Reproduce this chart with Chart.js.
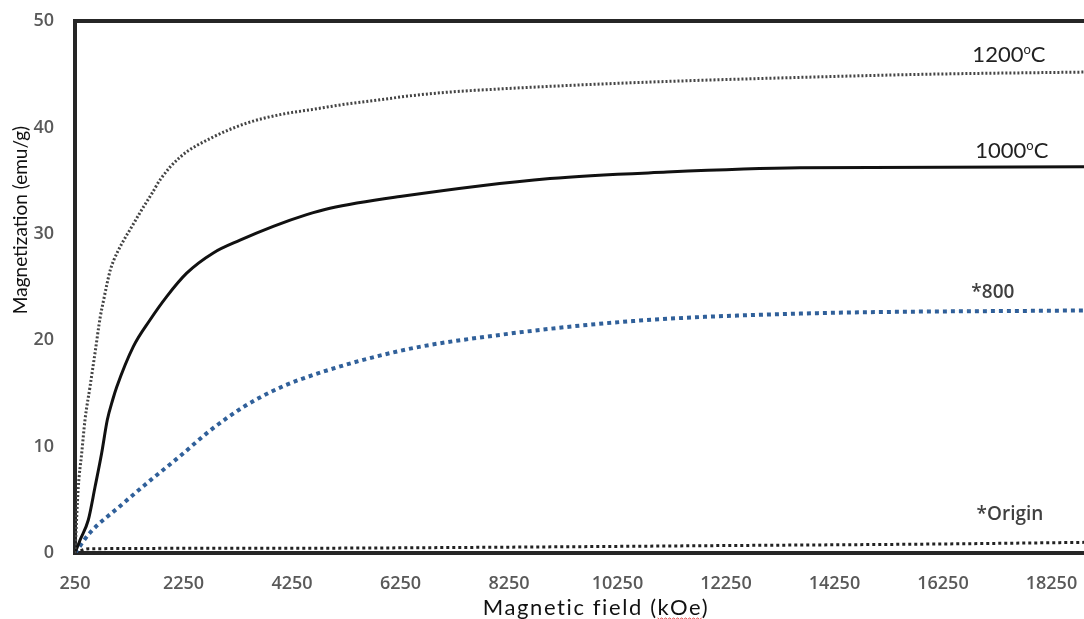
<!DOCTYPE html>
<html>
<head>
<meta charset="utf-8">
<script src="https://cdn.jsdelivr.net/npm/chart.js@4.4.1/dist/chart.umd.min.js"></script>
<style>
  html, body { margin: 0; padding: 0; background: #fff; }
  #wrap { width: 1084px; height: 619px; position: relative; }
</style>
</head>
<body>
<div id="wrap"><canvas id="mhChart"></canvas></div>
<script>
// --- data ---
const fieldTicks = [250, 2250, 4250, 6250, 8250, 10250, 12250, 14250, 16250, 18250];
const magTicks = [0, 10, 20, 30, 40, 50];

const field1200 = [250, 311, 374, 434, 526, 619, 716, 779, 840, 901, 963, 1116, 1301, 1485, 1669, 1822, 2185, 2799, 3415, 4029, 4643, 5258, 5872, 6486, 7102, 8023, 10536, 13614, 16000, 18850];
const mag1200   = [0, 6.2, 9.4, 12.5, 15.6, 18.8, 22.2, 23.8, 25.3, 26.6, 27.5, 29.1, 30.7, 32.3, 33.8, 35.1, 37.2, 39.1, 40.4, 41.2, 41.7, 42.2, 42.6, 43.0, 43.3, 43.6, 44.2, 44.7, 45.0, 45.2];

const field1000 = [250, 342, 495, 619, 742, 845, 945, 1019, 1325, 1632, 1940, 2309, 2799, 3292, 3905, 4521, 4950, 6240, 9005, 11162, 13614, 18850];
const mag1000   = [0, 1.2, 3.1, 6.2, 9.4, 12.5, 14.4, 15.6, 19.4, 21.9, 24.1, 26.3, 28.2, 29.4, 30.7, 31.8, 32.4, 33.5, 35.2, 35.8, 36.2, 36.3];

const field800 = [250, 526, 1079, 1632, 2185, 2738, 3347, 3844, 4397, 6240, 8084, 10536, 13614, 18850];
const mag800   = [0, 1.9, 4.4, 6.8, 9.1, 11.5, 13.7, 15.1, 16.3, 19.0, 20.5, 21.8, 22.5, 22.8];

const fieldOrigin = [250, 500, 4250, 8250, 12250, 16250, 18850];
const magOrigin   = [0, 0.4, 0.45, 0.55, 0.7, 0.85, 1.0];

// curve labels, anchored in data units
const noteText  = ['1200\u1D52C', '1000\u1D52C', '*800', '*Origin'];
const noteField = [17466, 17520, 17170, 17485];
const noteMag   = [46.8, 37.8, 24.5, 3.6];

const toPoints = (xs, ys) => xs.map((x, i) => ({ x: x, y: ys[i] }));

// "1200ᵒC" style label: small raised o
function drawDegLabel(ctx, t, cx, cy) {
    const parts = t.split('\u1D52');
    ctx.textAlign = 'left';
    ctx.font = '22px Lato';
    const w1 = ctx.measureText(parts[0]).width;
    const w2 = ctx.measureText(parts[1]).width;
    ctx.font = '13px Lato';
    const wo = ctx.measureText('o').width;
    let x = cx - (w1 + wo + w2) / 2;
    ctx.font = '22px Lato';
    ctx.fillText(parts[0], x, cy);
    ctx.font = '13px Lato';
    ctx.fillText('o', x + w1, cy - 5);
    ctx.font = '22px Lato';
    ctx.fillText(parts[1], x + w1 + wo, cy);
}

// frame top line + labels + axis titles
const extrasPlugin = {
    id: 'extras',
    afterDraw(chart) {
        const ctx = chart.ctx;
        const area = chart.chartArea;
        const xs = chart.scales.x, ys = chart.scales.y;
        ctx.save();
        // top frame
        ctx.strokeStyle = '#262626';
        ctx.lineWidth = 4;
        ctx.beginPath();
        ctx.moveTo(area.left - 2, area.top);
        ctx.lineTo(area.right, area.top);
        ctx.stroke();

        // curve labels
        ctx.textBaseline = 'middle';
        noteText.forEach((t, i) => {
            const px = xs.getPixelForValue(noteField[i]);
            const py = ys.getPixelForValue(noteMag[i]);
            if (t.startsWith('*')) {
                ctx.textAlign = 'center';
                ctx.font = '600 19px "Open Sans"';
                ctx.fillStyle = '#404040';
                ctx.fillText(t, px, py);
            } else {
                ctx.fillStyle = '#222';
                drawDegLabel(ctx, t, px, py);
            }
        });

        // x title
        ctx.textAlign = 'center';
        ctx.font = '22px Lato';
        ctx.letterSpacing = '1.6px';
        ctx.fillStyle = '#111';
        const xt = 'Magnetic field (kOe)';
        const cx = 596, cy = 608;
        ctx.fillText(xt, cx, cy);
        // spell-check squiggle under kOe
        const full = ctx.measureText(xt).width;
        const pre = ctx.measureText('Magnetic field (').width;
        const kw = ctx.measureText('kOe').width;
        ctx.letterSpacing = '0px';
        const sx = cx - full / 2 + pre;
        ctx.strokeStyle = '#e04040';
        ctx.lineWidth = 1;
        ctx.beginPath();
        for (let k = 0; k <= kw; k += 2) {
            const yy = cy + 10 + ((k / 2) % 2 ? 1.5 : 0);
            if (k === 0) ctx.moveTo(sx + k, yy); else ctx.lineTo(sx + k, yy);
        }
        ctx.stroke();

        // y title
        ctx.translate(21, 220);
        ctx.rotate(-Math.PI / 2);
        ctx.font = '19px Lato';
        ctx.fillStyle = '#111';
        ctx.fillText('Magnetization (emu/g)', 0, 0);
        ctx.restore();
    }
};

const ctxMH = document.getElementById('mhChart').getContext('2d');
const mhChart = new Chart(ctxMH, {
    type: 'line',
    data: {
        datasets: [
            {
                label: '1200\u1D52C',
                data: toPoints(field1200, mag1200),
                borderColor: '#444',
                borderWidth: 3,
                borderDash: [2, 2],
                cubicInterpolationMode: 'monotone',
                pointRadius: 0
            },
            {
                label: '1000\u1D52C',
                data: toPoints(field1000, mag1000),
                borderColor: '#111',
                borderWidth: 3,
                cubicInterpolationMode: 'monotone',
                pointRadius: 0
            },
            {
                label: '*800',
                data: toPoints(field800, mag800),
                borderColor: '#30609a',
                borderWidth: 4,
                borderDash: [4, 4],
                cubicInterpolationMode: 'monotone',
                pointRadius: 0
            },
            {
                label: '*Origin',
                data: toPoints(fieldOrigin, magOrigin),
                borderColor: '#222',
                borderWidth: 3,
                borderDash: [3, 3],
                cubicInterpolationMode: 'monotone',
                pointRadius: 0
            }
        ]
    },
    options: {
        responsive: true,
        maintainAspectRatio: false,
        animation: false,
        layout: { padding: { top: 21, left: 0, right: 0, bottom: 0 } },
        plugins: {
            legend: { display: false },
            tooltip: { enabled: false }
        },
        scales: {
            x: {
                type: 'linear',
                min: 250,
                max: 18850,
                afterBuildTicks: s => { s.ticks = fieldTicks.map(v => ({ value: v })); },
                afterFit: s => { s.height = 66; s.paddingLeft = 0; s.paddingRight = 0; },
                grid: { display: false, drawTicks: false },
                border: { display: true, width: 4, color: '#262626' },
                ticks: {
                    autoSkip: false,
                    maxRotation: 0,
                    padding: 20,
                    color: '#595959',
                    font: { family: 'Open Sans', size: 18, weight: '600' },
                    callback: v => String(v)
                }
            },
            y: {
                min: 0,
                max: 50,
                afterBuildTicks: s => { s.ticks = magTicks.map(v => ({ value: v })); },
                afterFit: s => { s.width = 75; s.paddingTop = 0; s.paddingBottom = 0; },
                grid: { display: false, drawTicks: false },
                border: { display: true, width: 4, color: '#262626' },
                ticks: {
                    padding: 21,
                    color: '#595959',
                    font: { family: 'Open Sans', size: 18, weight: '600' },
                    callback: v => String(v)
                }
            }
        }
    },
    plugins: [extrasPlugin]
});
</script>
</body>
</html>
